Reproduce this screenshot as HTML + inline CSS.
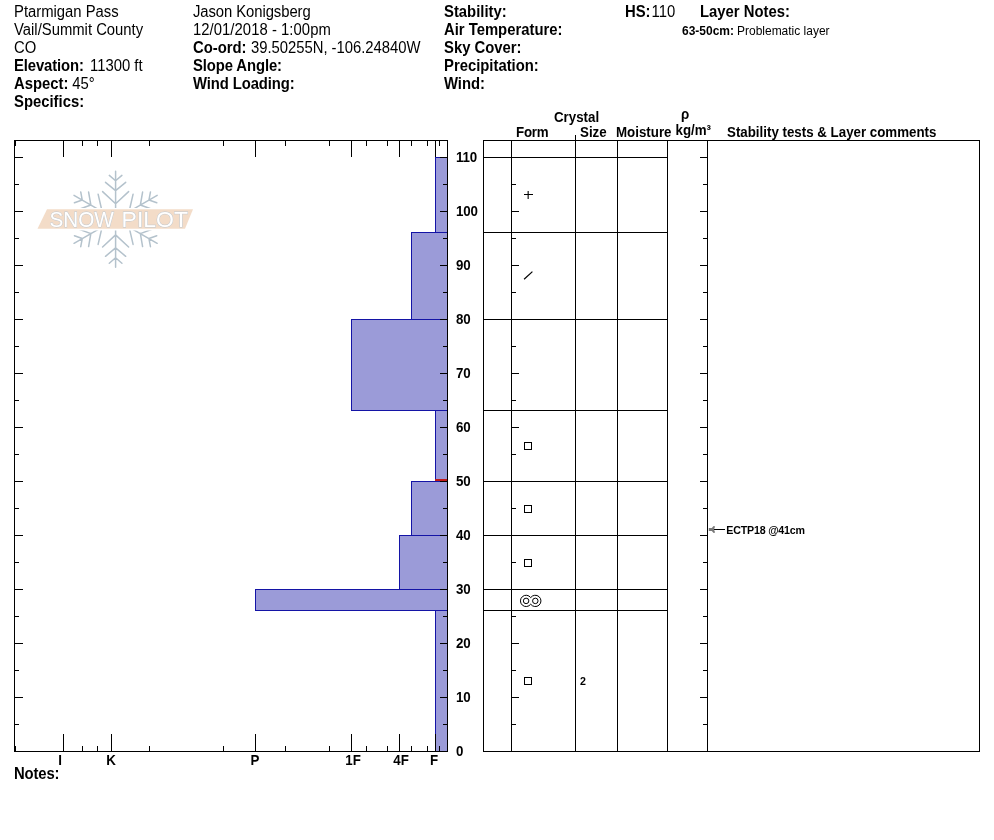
<!DOCTYPE html>
<html><head><meta charset="utf-8"><title>SnowPilot Pit Profile</title>
<style>
html,body{margin:0;padding:0;background:#fff;}
body{width:994px;height:840px;overflow:hidden;position:relative;font-family:"Liberation Sans",sans-serif;color:#000;}
svg{position:absolute;left:0;top:0;}
text{font-family:"Liberation Sans",sans-serif;fill:#000;}
.l{fill:#000;shape-rendering:crispEdges;}
</style></head><body>
<svg width="994" height="840" viewBox="0 0 994 840">

<text transform="translate(14 17) scale(1 1.08)" style="font-size:14.85px;" xml:space="preserve">Ptarmigan Pass</text>
<text transform="translate(14 35) scale(1 1.08)" style="font-size:14.85px;" xml:space="preserve">Vail/Summit County</text>
<text transform="translate(14 53) scale(1 1.08)" style="font-size:14.85px;" xml:space="preserve">CO</text>
<text transform="translate(14 71) scale(1 1.08)" style="font-size:14.85px;font-weight:bold;letter-spacing:-0.1px;" xml:space="preserve">Elevation:</text>
<text transform="translate(90 71) scale(1 1.08)" style="font-size:14.85px;" xml:space="preserve">11300 ft</text>
<text transform="translate(14 89) scale(1 1.08)" style="font-size:14.85px;font-weight:bold;" xml:space="preserve">Aspect:</text>
<text transform="translate(72.3 89) scale(1 1.08)" style="font-size:14.85px;" xml:space="preserve">45°</text>
<text transform="translate(14 107) scale(1 1.08)" style="font-size:14.85px;font-weight:bold;" xml:space="preserve">Specifics:</text>
<text transform="translate(193 17) scale(1 1.08)" style="font-size:14.85px;letter-spacing:-0.07px;" xml:space="preserve">Jason Konigsberg</text>
<text transform="translate(193 35) scale(1 1.08)" style="font-size:14.85px;letter-spacing:0.05px;" xml:space="preserve">12/01/2018 - 1:00pm</text>
<text transform="translate(193 53) scale(1 1.08)" style="font-size:14.85px;font-weight:bold;" xml:space="preserve">Co-ord:</text>
<text transform="translate(251 53) scale(1 1.08)" style="font-size:14.85px;letter-spacing:-0.02px;" xml:space="preserve">39.50255N, -106.24840W</text>
<text transform="translate(193 71) scale(1 1.08)" style="font-size:14.85px;font-weight:bold;letter-spacing:-0.1px;" xml:space="preserve">Slope Angle:</text>
<text transform="translate(193 89) scale(1 1.08)" style="font-size:14.85px;font-weight:bold;letter-spacing:-0.1px;" xml:space="preserve">Wind Loading:</text>
<text transform="translate(444 17) scale(1 1.08)" style="font-size:14.85px;font-weight:bold;" xml:space="preserve">Stability:</text>
<text transform="translate(444 35) scale(1 1.08)" style="font-size:14.85px;font-weight:bold;" xml:space="preserve">Air Temperature:</text>
<text transform="translate(444 53) scale(1 1.08)" style="font-size:14.85px;font-weight:bold;" xml:space="preserve">Sky Cover:</text>
<text transform="translate(444 71) scale(1 1.08)" style="font-size:14.85px;font-weight:bold;" xml:space="preserve">Precipitation:</text>
<text transform="translate(444 89) scale(1 1.08)" style="font-size:14.85px;font-weight:bold;" xml:space="preserve">Wind:</text>
<text transform="translate(625 17) scale(1 1.08)" style="font-size:14.85px;font-weight:bold;" xml:space="preserve">HS:</text>
<text transform="translate(651.5 17) scale(1 1.08)" style="font-size:14.85px;" xml:space="preserve">110</text>
<text transform="translate(700 17) scale(1 1.08)" style="font-size:14.85px;font-weight:bold;" xml:space="preserve">Layer Notes:</text>
<text transform="translate(14 779) scale(1 1.08)" style="font-size:14.85px;font-weight:bold;letter-spacing:-0.12px;" xml:space="preserve">Notes:</text>
<text transform="translate(682 35) scale(1 1.08)" style="font-size:12px;font-weight:bold;" xml:space="preserve">63-50cm:</text>
<text transform="translate(737 35) scale(1 1.08)" style="font-size:12px;" xml:space="preserve">Problematic layer</text>
<g id="logo">
<defs><clipPath id="fc"><rect x="30" y="160" width="180" height="48"/><rect x="30" y="230.5" width="180" height="50"/></clipPath>
<path id="arm" d="M0 0V-48M0 -15.6L-13 -27.7M0 -15.6L13 -27.7M0 -28.6L-10.1 -37M0 -28.6L10.1 -37M0 -38.5L-6.3 -43.9M0 -38.5L6.3 -43.9"/></defs>
<g clip-path="url(#fc)"><g transform="translate(115.6 219.3)" stroke="#b4c2cc" stroke-width="1.5" stroke-linecap="round" fill="none">
<use href="#arm"/><use href="#arm" transform="rotate(60)"/><use href="#arm" transform="rotate(120)"/><use href="#arm" transform="rotate(180)"/><use href="#arm" transform="rotate(240)"/><use href="#arm" transform="rotate(300)"/>
</g></g>
<polygon points="47,209.2 193,209.2 185,228.8 37.5,228.8" fill="#f3dcc8"/>
<text y="227" style="font-size:21.5px;fill:#fff;stroke:#bfc8d0;stroke-width:0.9px;paint-order:stroke;" xml:space="preserve"><tspan x="49.4" textLength="64.4" lengthAdjust="spacingAndGlyphs">SNOW</tspan><tspan> </tspan><tspan x="121.6" textLength="66.4" lengthAdjust="spacingAndGlyphs">PILOT</tspan></text>
</g>
<rect x="435" y="157" width="12" height="75" fill="#9b9bd8" shape-rendering="crispEdges"/>
<rect x="411" y="232" width="36" height="87" fill="#9b9bd8" shape-rendering="crispEdges"/>
<rect x="351" y="319" width="96" height="91" fill="#9b9bd8" shape-rendering="crispEdges"/>
<rect x="435" y="410" width="12" height="71" fill="#9b9bd8" shape-rendering="crispEdges"/>
<rect x="411" y="481" width="36" height="54" fill="#9b9bd8" shape-rendering="crispEdges"/>
<rect x="399" y="535" width="48" height="54" fill="#9b9bd8" shape-rendering="crispEdges"/>
<rect x="255" y="589" width="192" height="21" fill="#9b9bd8" shape-rendering="crispEdges"/>
<rect x="435" y="610" width="12" height="141" fill="#9b9bd8" shape-rendering="crispEdges"/>
<rect class="l" x="435" y="157" width="13" height="1" style="fill:#1414a6"/>
<rect class="l" x="435" y="157" width="1" height="76" style="fill:#1414a6"/>
<rect class="l" x="435" y="232" width="13" height="1" style="fill:#1414a6"/>
<rect class="l" x="411" y="232" width="37" height="1" style="fill:#1414a6"/>
<rect class="l" x="411" y="232" width="1" height="88" style="fill:#1414a6"/>
<rect class="l" x="411" y="319" width="37" height="1" style="fill:#1414a6"/>
<rect class="l" x="351" y="319" width="97" height="1" style="fill:#1414a6"/>
<rect class="l" x="351" y="319" width="1" height="92" style="fill:#1414a6"/>
<rect class="l" x="351" y="410" width="97" height="1" style="fill:#1414a6"/>
<rect class="l" x="435" y="410" width="13" height="1" style="fill:#1414a6"/>
<rect class="l" x="435" y="410" width="1" height="72" style="fill:#1414a6"/>
<rect class="l" x="435" y="481" width="13" height="1" style="fill:#1414a6"/>
<rect class="l" x="411" y="481" width="37" height="1" style="fill:#1414a6"/>
<rect class="l" x="411" y="481" width="1" height="55" style="fill:#1414a6"/>
<rect class="l" x="411" y="535" width="37" height="1" style="fill:#1414a6"/>
<rect class="l" x="399" y="535" width="49" height="1" style="fill:#1414a6"/>
<rect class="l" x="399" y="535" width="1" height="55" style="fill:#1414a6"/>
<rect class="l" x="399" y="589" width="49" height="1" style="fill:#1414a6"/>
<rect class="l" x="255" y="589" width="193" height="1" style="fill:#1414a6"/>
<rect class="l" x="255" y="589" width="1" height="22" style="fill:#1414a6"/>
<rect class="l" x="255" y="610" width="193" height="1" style="fill:#1414a6"/>
<rect class="l" x="435" y="610" width="13" height="1" style="fill:#1414a6"/>
<rect class="l" x="435" y="610" width="1" height="142" style="fill:#1414a6"/>
<rect class="l" x="435" y="751" width="13" height="1" style="fill:#1414a6"/>
<rect class="l" x="435" y="479" width="12" height="2" style="fill:#c01818"/>
<rect class="l" x="14" y="140" width="434" height="1"/>
<rect class="l" x="14" y="751" width="434" height="1"/>
<rect class="l" x="14" y="140" width="1" height="612"/>
<rect class="l" x="447" y="140" width="1" height="612"/>
<rect class="l" x="63" y="140" width="1" height="17"/>
<rect class="l" x="63" y="734" width="1" height="18"/>
<rect class="l" x="111" y="140" width="1" height="17"/>
<rect class="l" x="111" y="734" width="1" height="18"/>
<rect class="l" x="255" y="140" width="1" height="17"/>
<rect class="l" x="255" y="734" width="1" height="18"/>
<rect class="l" x="351" y="140" width="1" height="17"/>
<rect class="l" x="351" y="734" width="1" height="18"/>
<rect class="l" x="399" y="140" width="1" height="17"/>
<rect class="l" x="399" y="734" width="1" height="18"/>
<rect class="l" x="435" y="140" width="1" height="17"/>
<rect class="l" x="435" y="734" width="1" height="18"/>
<rect class="l" x="15" y="140" width="1" height="6"/>
<rect class="l" x="15" y="746" width="1" height="6"/>
<rect class="l" x="82" y="140" width="1" height="6"/>
<rect class="l" x="82" y="746" width="1" height="6"/>
<rect class="l" x="97" y="140" width="1" height="6"/>
<rect class="l" x="97" y="746" width="1" height="6"/>
<rect class="l" x="149" y="140" width="1" height="6"/>
<rect class="l" x="149" y="746" width="1" height="6"/>
<rect class="l" x="223" y="140" width="1" height="6"/>
<rect class="l" x="223" y="746" width="1" height="6"/>
<rect class="l" x="285" y="140" width="1" height="6"/>
<rect class="l" x="285" y="746" width="1" height="6"/>
<rect class="l" x="329" y="140" width="1" height="6"/>
<rect class="l" x="329" y="746" width="1" height="6"/>
<rect class="l" x="366" y="140" width="1" height="6"/>
<rect class="l" x="366" y="746" width="1" height="6"/>
<rect class="l" x="387" y="140" width="1" height="6"/>
<rect class="l" x="387" y="746" width="1" height="6"/>
<rect class="l" x="411" y="140" width="1" height="6"/>
<rect class="l" x="411" y="746" width="1" height="6"/>
<rect class="l" x="427" y="140" width="1" height="6"/>
<rect class="l" x="427" y="746" width="1" height="6"/>
<rect class="l" x="439" y="140" width="1" height="6"/>
<rect class="l" x="439" y="746" width="1" height="6"/>
<rect class="l" x="14" y="751" width="9" height="1"/>
<rect class="l" x="440" y="751" width="8" height="1"/>
<rect class="l" x="14" y="724" width="5" height="1"/>
<rect class="l" x="443" y="724" width="5" height="1"/>
<rect class="l" x="14" y="697" width="9" height="1"/>
<rect class="l" x="440" y="697" width="8" height="1"/>
<rect class="l" x="14" y="670" width="5" height="1"/>
<rect class="l" x="443" y="670" width="5" height="1"/>
<rect class="l" x="14" y="643" width="9" height="1"/>
<rect class="l" x="440" y="643" width="8" height="1"/>
<rect class="l" x="14" y="616" width="5" height="1"/>
<rect class="l" x="443" y="616" width="5" height="1"/>
<rect class="l" x="14" y="589" width="9" height="1"/>
<rect class="l" x="440" y="589" width="8" height="1"/>
<rect class="l" x="14" y="562" width="5" height="1"/>
<rect class="l" x="443" y="562" width="5" height="1"/>
<rect class="l" x="14" y="535" width="9" height="1"/>
<rect class="l" x="440" y="535" width="8" height="1"/>
<rect class="l" x="14" y="508" width="5" height="1"/>
<rect class="l" x="443" y="508" width="5" height="1"/>
<rect class="l" x="14" y="481" width="9" height="1"/>
<rect class="l" x="440" y="481" width="8" height="1"/>
<rect class="l" x="14" y="454" width="5" height="1"/>
<rect class="l" x="443" y="454" width="5" height="1"/>
<rect class="l" x="14" y="427" width="9" height="1"/>
<rect class="l" x="440" y="427" width="8" height="1"/>
<rect class="l" x="14" y="400" width="5" height="1"/>
<rect class="l" x="443" y="400" width="5" height="1"/>
<rect class="l" x="14" y="373" width="9" height="1"/>
<rect class="l" x="440" y="373" width="8" height="1"/>
<rect class="l" x="14" y="346" width="5" height="1"/>
<rect class="l" x="443" y="346" width="5" height="1"/>
<rect class="l" x="14" y="319" width="9" height="1"/>
<rect class="l" x="440" y="319" width="8" height="1"/>
<rect class="l" x="14" y="292" width="5" height="1"/>
<rect class="l" x="443" y="292" width="5" height="1"/>
<rect class="l" x="14" y="265" width="9" height="1"/>
<rect class="l" x="440" y="265" width="8" height="1"/>
<rect class="l" x="14" y="238" width="5" height="1"/>
<rect class="l" x="443" y="238" width="5" height="1"/>
<rect class="l" x="14" y="211" width="9" height="1"/>
<rect class="l" x="440" y="211" width="8" height="1"/>
<rect class="l" x="14" y="184" width="5" height="1"/>
<rect class="l" x="443" y="184" width="5" height="1"/>
<rect class="l" x="14" y="157" width="9" height="1"/>
<rect class="l" x="440" y="157" width="8" height="1"/>
<text transform="translate(60 765) scale(1 1.08)" style="font-size:13.33px;font-weight:bold;" text-anchor="middle" xml:space="preserve">I</text>
<text transform="translate(111 765) scale(1 1.08)" style="font-size:13.33px;font-weight:bold;" text-anchor="middle" xml:space="preserve">K</text>
<text transform="translate(255 765) scale(1 1.08)" style="font-size:13.33px;font-weight:bold;" text-anchor="middle" xml:space="preserve">P</text>
<text transform="translate(353 765) scale(1 1.08)" style="font-size:13.33px;font-weight:bold;" text-anchor="middle" xml:space="preserve">1F</text>
<text transform="translate(401 765) scale(1 1.08)" style="font-size:13.33px;font-weight:bold;" text-anchor="middle" xml:space="preserve">4F</text>
<text transform="translate(434 765) scale(1 1.08)" style="font-size:13.33px;font-weight:bold;" text-anchor="middle" xml:space="preserve">F</text>
<text transform="translate(456 756) scale(1 1.08)" style="font-size:13.33px;font-weight:bold;letter-spacing:-0.2px;" xml:space="preserve">0</text>
<text transform="translate(456 702) scale(1 1.08)" style="font-size:13.33px;font-weight:bold;letter-spacing:-0.2px;" xml:space="preserve">10</text>
<text transform="translate(456 648) scale(1 1.08)" style="font-size:13.33px;font-weight:bold;letter-spacing:-0.2px;" xml:space="preserve">20</text>
<text transform="translate(456 594) scale(1 1.08)" style="font-size:13.33px;font-weight:bold;letter-spacing:-0.2px;" xml:space="preserve">30</text>
<text transform="translate(456 540) scale(1 1.08)" style="font-size:13.33px;font-weight:bold;letter-spacing:-0.2px;" xml:space="preserve">40</text>
<text transform="translate(456 486) scale(1 1.08)" style="font-size:13.33px;font-weight:bold;letter-spacing:-0.2px;" xml:space="preserve">50</text>
<text transform="translate(456 432) scale(1 1.08)" style="font-size:13.33px;font-weight:bold;letter-spacing:-0.2px;" xml:space="preserve">60</text>
<text transform="translate(456 378) scale(1 1.08)" style="font-size:13.33px;font-weight:bold;letter-spacing:-0.2px;" xml:space="preserve">70</text>
<text transform="translate(456 324) scale(1 1.08)" style="font-size:13.33px;font-weight:bold;letter-spacing:-0.2px;" xml:space="preserve">80</text>
<text transform="translate(456 270) scale(1 1.08)" style="font-size:13.33px;font-weight:bold;letter-spacing:-0.2px;" xml:space="preserve">90</text>
<text transform="translate(456 216) scale(1 1.08)" style="font-size:13.33px;font-weight:bold;letter-spacing:-0.2px;" xml:space="preserve">100</text>
<text transform="translate(456 162) scale(1 1.08)" style="font-size:13.33px;font-weight:bold;letter-spacing:-0.2px;" xml:space="preserve">110</text>
<rect class="l" x="483" y="140" width="1" height="612"/>
<rect class="l" x="511" y="140" width="1" height="612"/>
<rect class="l" x="575" y="140" width="1" height="612"/>
<rect class="l" x="617" y="140" width="1" height="612"/>
<rect class="l" x="667" y="140" width="1" height="612"/>
<rect class="l" x="707" y="140" width="1" height="612"/>
<rect class="l" x="979" y="140" width="1" height="612"/>
<rect class="l" x="575" y="135" width="1" height="6"/>
<rect class="l" x="483" y="140" width="497" height="1"/>
<rect class="l" x="483" y="751" width="497" height="1"/>
<rect class="l" x="483" y="157" width="185" height="1"/>
<rect class="l" x="483" y="232" width="185" height="1"/>
<rect class="l" x="483" y="319" width="185" height="1"/>
<rect class="l" x="483" y="410" width="185" height="1"/>
<rect class="l" x="483" y="481" width="185" height="1"/>
<rect class="l" x="483" y="535" width="185" height="1"/>
<rect class="l" x="483" y="589" width="185" height="1"/>
<rect class="l" x="483" y="610" width="185" height="1"/>
<rect class="l" x="511" y="751" width="8" height="1"/>
<rect class="l" x="700" y="751" width="8" height="1"/>
<rect class="l" x="511" y="724" width="5" height="1"/>
<rect class="l" x="703" y="724" width="5" height="1"/>
<rect class="l" x="511" y="697" width="8" height="1"/>
<rect class="l" x="700" y="697" width="8" height="1"/>
<rect class="l" x="511" y="670" width="5" height="1"/>
<rect class="l" x="703" y="670" width="5" height="1"/>
<rect class="l" x="511" y="643" width="8" height="1"/>
<rect class="l" x="700" y="643" width="8" height="1"/>
<rect class="l" x="511" y="616" width="5" height="1"/>
<rect class="l" x="703" y="616" width="5" height="1"/>
<rect class="l" x="511" y="589" width="8" height="1"/>
<rect class="l" x="700" y="589" width="8" height="1"/>
<rect class="l" x="511" y="562" width="5" height="1"/>
<rect class="l" x="703" y="562" width="5" height="1"/>
<rect class="l" x="511" y="535" width="8" height="1"/>
<rect class="l" x="700" y="535" width="8" height="1"/>
<rect class="l" x="511" y="508" width="5" height="1"/>
<rect class="l" x="703" y="508" width="5" height="1"/>
<rect class="l" x="511" y="481" width="8" height="1"/>
<rect class="l" x="700" y="481" width="8" height="1"/>
<rect class="l" x="511" y="454" width="5" height="1"/>
<rect class="l" x="703" y="454" width="5" height="1"/>
<rect class="l" x="511" y="427" width="8" height="1"/>
<rect class="l" x="700" y="427" width="8" height="1"/>
<rect class="l" x="511" y="400" width="5" height="1"/>
<rect class="l" x="703" y="400" width="5" height="1"/>
<rect class="l" x="511" y="373" width="8" height="1"/>
<rect class="l" x="700" y="373" width="8" height="1"/>
<rect class="l" x="511" y="346" width="5" height="1"/>
<rect class="l" x="703" y="346" width="5" height="1"/>
<rect class="l" x="511" y="319" width="8" height="1"/>
<rect class="l" x="700" y="319" width="8" height="1"/>
<rect class="l" x="511" y="292" width="5" height="1"/>
<rect class="l" x="703" y="292" width="5" height="1"/>
<rect class="l" x="511" y="265" width="8" height="1"/>
<rect class="l" x="700" y="265" width="8" height="1"/>
<rect class="l" x="511" y="238" width="5" height="1"/>
<rect class="l" x="703" y="238" width="5" height="1"/>
<rect class="l" x="511" y="211" width="8" height="1"/>
<rect class="l" x="700" y="211" width="8" height="1"/>
<rect class="l" x="511" y="184" width="5" height="1"/>
<rect class="l" x="703" y="184" width="5" height="1"/>
<rect class="l" x="511" y="157" width="8" height="1"/>
<rect class="l" x="700" y="157" width="8" height="1"/>
<text transform="translate(554 122) scale(1 1.08)" style="font-size:13.33px;font-weight:bold;" xml:space="preserve">Crystal</text>
<text transform="translate(516 137) scale(1 1.08)" style="font-size:13.33px;font-weight:bold;letter-spacing:-0.2px;" xml:space="preserve">Form</text>
<text transform="translate(580 137) scale(1 1.08)" style="font-size:13.33px;font-weight:bold;" xml:space="preserve">Size</text>
<text transform="translate(616 137) scale(1 1.08)" style="font-size:13.33px;font-weight:bold;" xml:space="preserve">Moisture</text>
<text transform="translate(685.2 119) scale(1 1.08)" style="font-size:13.33px;font-weight:bold;" text-anchor="middle" xml:space="preserve">ρ</text>
<text transform="translate(675.5 135) scale(1 1.08)" style="font-size:13.33px;font-weight:bold;" xml:space="preserve">kg/m³</text>
<text transform="translate(727 137) scale(1 1.08)" style="font-size:13.33px;font-weight:bold;" xml:space="preserve">Stability tests &amp; Layer comments</text>
<g stroke="#000" fill="none" stroke-width="1">
<rect x="524" y="194" width="9" height="1" fill="#000" stroke="none" shape-rendering="crispEdges"/><rect x="527.6" y="191" width="1.1" height="8" fill="#000" stroke="none"/>
<path d="M524.1 279.2L532.4 271.6" stroke-width="1.25"/>
<rect x="524.5" y="442.5" width="7" height="7" shape-rendering="crispEdges"/>
<rect x="524.5" y="505.5" width="7" height="7" shape-rendering="crispEdges"/>
<rect x="524.5" y="559.5" width="7" height="7" shape-rendering="crispEdges"/>
<rect x="524.5" y="677.5" width="7" height="7" shape-rendering="crispEdges"/>
<g stroke-width="1"><circle cx="526.1" cy="600.9" r="2.75"/><circle cx="535.3" cy="600.9" r="2.75"/>
<path d="M530.7 597.62A5.65 5.65 0 1 0 530.7 604.18A5.65 5.65 0 1 0 530.7 597.62Z"/></g>
</g>
<text transform="translate(580 685) scale(1 1.08)" style="font-size:10.67px;font-weight:bold;" xml:space="preserve">2</text>
<rect class="l" x="714" y="529" width="11" height="1"/>
<polygon points="708.8,528.1 711.8,528.1 713.6,526.1 715.1,526.6 714,529.5 715.1,532.4 713.6,532.9 711.8,530.9 708.8,530.9" fill="#7a7a7a"/>
<text transform="translate(726.3 534) scale(1 1.08)" style="font-size:10.67px;font-weight:bold;letter-spacing:-0.2px;" xml:space="preserve">ECTP18 @41cm</text>
</svg>
</body></html>
